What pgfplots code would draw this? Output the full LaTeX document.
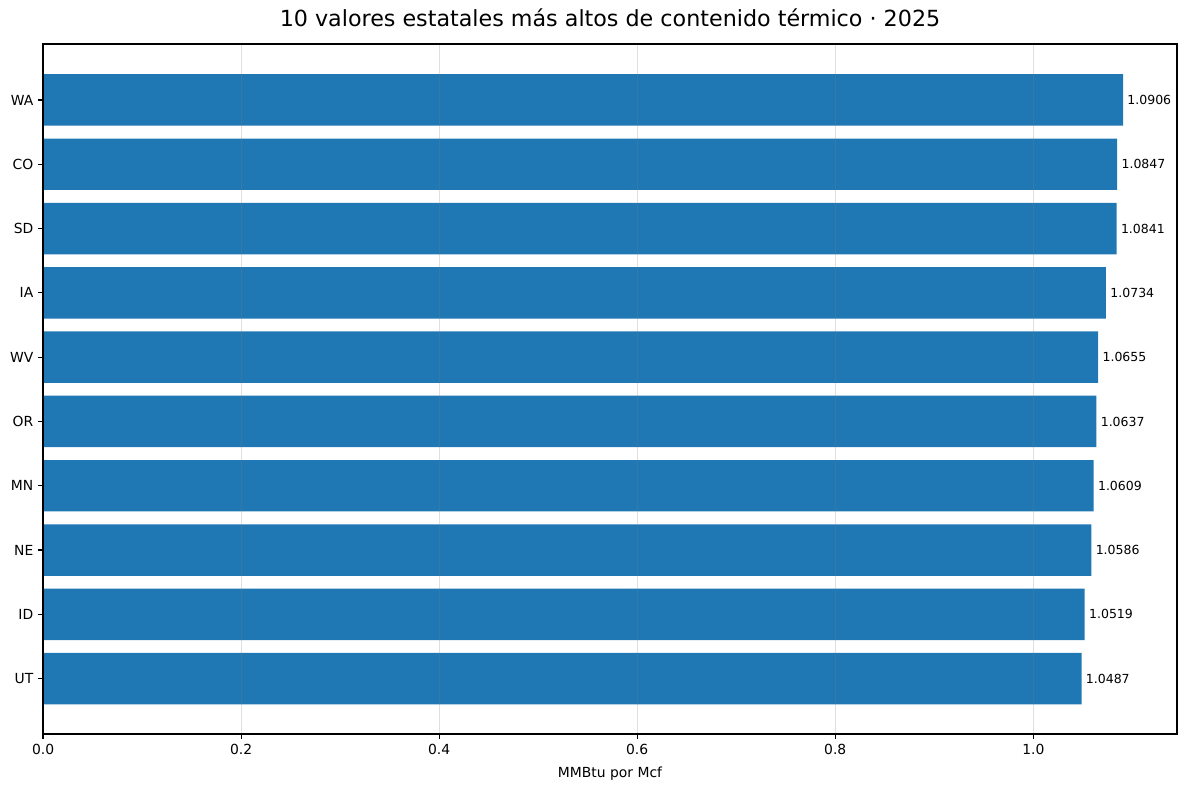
\documentclass[border=0pt]{standalone}
\usepackage{pgfplots}
\pgfplotsset{compat=1.18}
\usepackage{fontspec}
\setmainfont{DejaVu Sans}
\definecolor{barblue}{HTML}{1F77B4}

\begin{document}
\begin{tikzpicture}
\begin{axis}[
    at={(0,0)}, anchor=south west,
    scale only axis,
    width=816.5pt, height=496.8pt,
    xbar, bar width=0.8,
    xmin=0, xmax=1.1451,
    ymin=-0.86, ymax=9.87,
    ytick={0,...,9},
    yticklabels={UT,ID,NE,MN,OR,WV,IA,SD,CO,WA},
    xtick={0,0.2,0.4,0.6,0.8,1.0},
    /pgf/number format/.cd, fixed, fixed zerofill, precision=1, assume math mode=true,
    /pgfplots/.cd,
    tick align=outside, major tick length=3.5pt,
    xtick pos=bottom, ytick pos=left,
    tick style={black, line width=0.8pt},
    axis line style={black, line width=0.8pt},
    ticklabel style={font=\fontsize{10pt}{12pt}\selectfont},
    xmajorgrids, ymajorgrids=false,
    major grid style={gray, opacity=0.25, line width=0.8pt},
    axis on top,
    xlabel={MMBtu por Mcf},
    xlabel style={font=\fontsize{10pt}{12pt}\selectfont, yshift=-2.3pt},
    title={10 valores estatales más altos de contenido térmico · 2025},
    title style={font=\fontsize{16pt}{19pt}\selectfont, yshift=3pt},
    point meta=x,
    nodes near coords={\pgfmathprintnumber[fixed,fixed zerofill,precision=4]{\pgfplotspointmeta}},
    nodes near coords style={font=\fontsize{9pt}{11pt}\selectfont, anchor=west, inner sep=3pt},
]
\addplot[fill=barblue, draw=none] coordinates {
(1.0487,0) (1.0519,1) (1.0586,2) (1.0609,3) (1.0637,4)
(1.0655,5) (1.0734,6) (1.0841,7) (1.0847,8) (1.0906,9)
};
\end{axis}
\pgfresetboundingbox
\path[use as bounding box] (-31pt,-40.3pt) rectangle (823pt,528.5pt);
\end{tikzpicture}
\end{document}
